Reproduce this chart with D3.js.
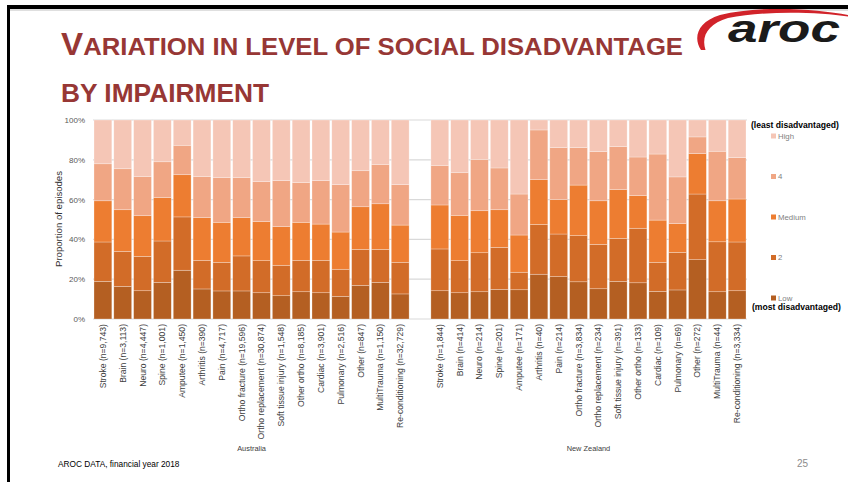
<!DOCTYPE html>
<html><head><meta charset="utf-8">
<script src="https://cdn.jsdelivr.net/npm/d3@7"></script>
<style>html,body{margin:0;padding:0;background:#fff;}svg{display:block;}</style>
</head><body>
<svg id="c" width="848" height="482"></svg>
<script>
// ---------- data ----------
const ausCategories = ["Stroke (n=9,743)","Brain (n=3,113)","Neuro (n=4,447)","Spine (n=1,001)","Amputee (n=1,450)","Arthritis (n=390)","Pain (n=4,717)","Ortho fracture (n=19,596)","Ortho replacement (n=30,874)","Soft tissue injury (n=1,548)","Other ortho (n=8,185)","Cardiac (n=3,901)","Pulmonary (n=2,516)","Other (n=847)","MultiTrauma (n=1,150)","Re-conditioning (n=32,729)"];
const nzCategories = ["Stroke (n=1,844)","Brain (n=414)","Neuro (n=214)","Spine (n=201)","Amputee (n=171)","Arthritis (n=40)","Pain (n=214)","Ortho fracture (n=3,834)","Ortho replacement (n=234)","Soft tissue injury (n=391)","Other ortho (n=133)","Cardiac (n=109)","Pulmonary (n=69)","Other (n=272)","MultiTrauma (n=44)","Re-conditioning (n=3,334)"];
const levels = ["Low","2","Medium","4","High"];

const ausLow    = [18.9,16.4,14.2,18.4,24.5,15.1,14.1,14.1,13.2,11.7,13.7,13.2,11.4,16.9,18.4,12.6];
const ausL2     = [19.8,17.6,17.3,20.8,26.8,14.4,14.4,17.6,16.1,15.3,15.8,16.3,13.6,18.1,16.6,15.9];
const ausMedium = [20.7,20.9,20.4,21.8,21.2,21.4,20.1,19.2,19.6,19.4,19.1,18.2,18.7,21.4,22.9,18.7];
const ausL4     = [18.6,20.6,19.6,18.0,14.8,20.6,22.4,20.1,20.1,23.1,19.9,21.8,23.8,18.1,19.8,20.3];
const ausHigh   = [22.0,24.5,28.5,21.0,12.7,28.5,29.0,29.0,31.0,30.5,31.5,30.5,32.5,25.5,22.3,32.5];

const nzLow     = [14.2,13.2,13.7,14.9,14.7,22.5,21.3,18.7,15.2,18.9,18.2,13.9,14.6,29.8,13.7,14.2];
const nzL2      = [21.0,16.1,19.6,21.1,8.8,25.0,21.4,23.2,22.3,21.6,27.4,14.6,18.9,33.0,25.1,24.5];
const nzMedium  = [22.1,22.8,21.1,18.9,18.7,22.5,17.3,25.4,21.9,24.5,16.4,21.2,14.4,20.3,20.6,21.6];
const nzL4      = [19.9,21.4,25.8,21.0,20.6,25.0,26.1,18.8,24.7,21.6,19.4,33.2,23.5,8.4,24.9,20.8];
const nzHigh    = [22.8,26.5,19.8,24.1,37.2,5.0,13.9,13.9,15.9,13.4,18.6,17.1,28.6,8.5,15.7,18.9];

const yTicks = [0,20,40,60,80,100];
const groupLabels = ["Australia","New Zealand"];
const levelColors = ["#B45F22","#D26C28","#ED7D31","#F0A684","#F5C6B6"];

// ---------- build rows ----------
function rows(prefix, cats, a, b, c, d, e){
  return cats.map((name,i)=>({key:prefix+"|"+i, name, group:prefix,
    "Low":a[i],"2":b[i],"Medium":c[i],"4":d[i],"High":e[i]}));
}
const ausRows = rows("AU", ausCategories, ausLow, ausL2, ausMedium, ausL4, ausHigh);
const nzRows  = rows("NZ", nzCategories, nzLow, nzL2, nzMedium, nzL4, nzHigh);
const allRows = ausRows.concat(nzRows);
const domain = ausRows.map(r=>r.key).concat(["gap"]).concat(nzRows.map(r=>r.key));

const svg = d3.select("#c");
const FONT = "'Liberation Sans', Arial, sans-serif";

// ---------- frame ----------
svg.append("rect").attr("x",7).attr("y",5).attr("width",841).attr("height",4).attr("fill","#000");
svg.append("rect").attr("x",7).attr("y",5).attr("width",3).attr("height",477).attr("fill","#000");
svg.append("line").attr("x1",10).attr("x2",848).attr("y1",10).attr("y2",10).attr("stroke","#bfbfbf").attr("stroke-width",1);

// ---------- title ----------
const tColor = "#973735";
const t1 = svg.append("text").attr("x",61).attr("y",55).attr("font-family",FONT).attr("font-weight","bold").attr("fill",tColor)
  .attr("textLength",622).attr("lengthAdjust","spacingAndGlyphs");
t1.append("tspan").attr("font-size",31).text("V");
t1.append("tspan").attr("font-size",24).text("ARIATION IN LEVEL OF SOCIAL DISADVANTAGE");
svg.append("text").attr("x",61).attr("y",102).attr("font-family",FONT).attr("font-weight","bold").attr("fill",tColor)
  .attr("font-size",25).attr("textLength",208).attr("lengthAdjust","spacingAndGlyphs").text("BY IMPAIRMENT");

// ---------- logo ----------
svg.append("path").attr("fill","#D1232A")
  .attr("d","M701,50 C693,38 697,22 720,15 C760,5 818,9 848,15 L848,16.5 C818,12 765,10.5 728,18 C708,24 701,36 705.5,50 Z");
svg.append("text").attr("x",728).attr("y",42).attr("font-family",FONT).attr("font-weight","bold").attr("font-style","italic")
  .attr("font-size",39).attr("fill","#1a1a1a").attr("textLength",112).attr("lengthAdjust","spacingAndGlyphs").text("aroc");

// ---------- scales ----------
const x = d3.scaleBand().domain(domain).range([93,747]).paddingInner(0.1).paddingOuter(0.05);
const y = d3.scaleLinear().domain([0,100]).range([319,120]);

// gridlines
svg.append("g").selectAll("line").data(yTicks).join("line")
  .attr("x1",93).attr("x2",747).attr("y1",d=>y(d)).attr("y2",d=>y(d))
  .attr("stroke","#d9d9d9").attr("stroke-width",1.2);

// y axis labels
const yAxis = svg.append("g").attr("transform","translate(85,0)")
  .call(d3.axisLeft(y).tickValues(yTicks).tickFormat(d=>d+"%").tickSize(0).tickPadding(0));
yAxis.select(".domain").remove();
yAxis.selectAll("text").attr("font-family",FONT).attr("font-size",8).attr("fill","#595959");

svg.append("text").attr("transform","translate(62,219) rotate(-90)").attr("text-anchor","middle")
  .attr("font-family",FONT).attr("font-size",9.6).attr("fill","#333").text("Proportion of episodes");

// ---------- bars ----------
const stack = d3.stack().keys(levels)(allRows);
svg.append("g").selectAll("g").data(stack).join("g").attr("fill",(d,i)=>levelColors[i])
  .selectAll("rect").data(d=>d).join("rect")
  .attr("x",d=>x(d.data.key)).attr("width",x.bandwidth())
  .attr("y",d=>y(d[1])).attr("height",d=>y(d[0])-y(d[1]))
  .attr("stroke","#ffffff").attr("stroke-opacity",0.45).attr("stroke-width",0.6);

// x labels
const xAxis = svg.append("g").attr("transform","translate(0,324)")
  .call(d3.axisBottom(x).tickValues(allRows.map(r=>r.key)).tickFormat(k=>allRows.find(r=>r.key===k).name).tickSize(0).tickPadding(0));
xAxis.select(".domain").remove();
xAxis.selectAll("text").attr("font-family",FONT).attr("font-size",8.6).attr("fill","#404040")
  .attr("text-anchor","end").attr("transform","rotate(-90)").attr("x",0).attr("y",0).attr("dy","0.35em");

// group labels
const ausCenter = (x(ausRows[0].key)+x(ausRows[ausRows.length-1].key)+x.bandwidth())/2;
const nzCenter = (x(nzRows[0].key)+x(nzRows[nzRows.length-1].key)+x.bandwidth())/2;
svg.append("g").selectAll("text").data(groupLabels).join("text")
  .attr("x",(d,i)=>i===0?ausCenter:nzCenter).attr("y",451).attr("text-anchor","middle")
  .attr("font-family",FONT).attr("font-size",7.4).attr("fill","#404040").text(d=>d);

// ---------- legend ----------
svg.append("text").attr("x",751).attr("y",128).attr("font-family",FONT).attr("font-weight","bold").attr("font-size",8.6)
  .attr("fill","#000").text("(least disadvantaged)");
svg.append("text").attr("x",752).attr("y",310).attr("font-family",FONT).attr("font-weight","bold").attr("font-size",8.6)
  .attr("fill","#000").text("(most disadvantaged)");
const legendY = d3.scalePoint().domain(levels.slice().reverse()).range([136,298]);
const lg = svg.append("g").selectAll("g").data(levels).join("g")
  .attr("transform",d=>`translate(771,${legendY(d)})`);
lg.append("rect").attr("x",0).attr("y",-2.5).attr("width",5).attr("height",5).attr("fill",(d,i)=>levelColors[i]);
lg.append("text").attr("x",7).attr("y",0).attr("dy","0.35em").attr("font-family",FONT).attr("font-size",7.8)
  .attr("fill","#7f7f7f").text(d=>d);

// ---------- footer ----------
svg.append("text").attr("x",58).attr("y",467).attr("font-family",FONT).attr("font-size",8.3).attr("fill","#000")
  .text("AROC DATA, financial year 2018");
svg.append("text").attr("x",797).attr("y",467).attr("font-family",FONT).attr("font-size",10).attr("fill","#8c8c8c").text("25");
</script>
</body></html>
